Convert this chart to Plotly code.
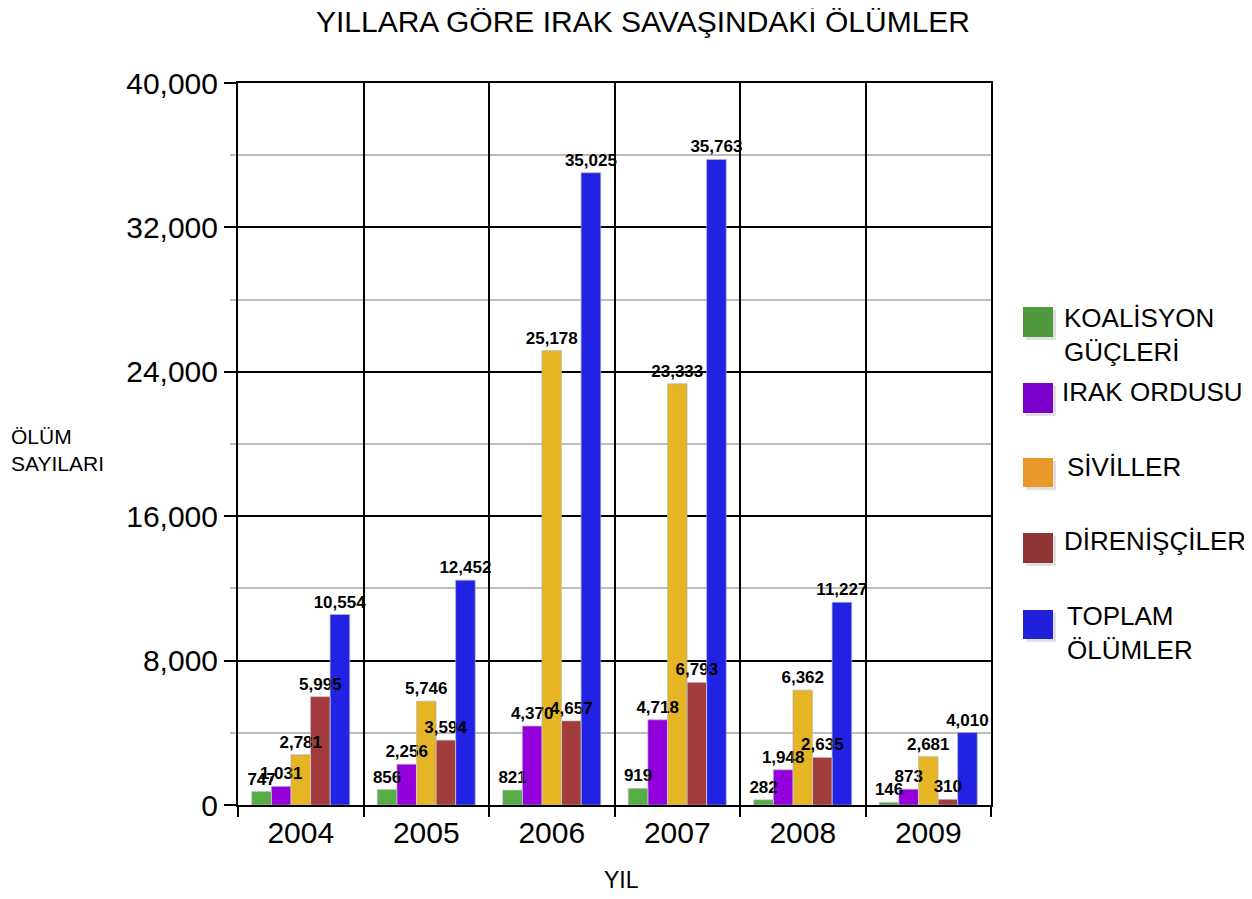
import plotly.graph_objects as go


# ==========================
# DATA
# ==========================

years = ["2004", "2005", "2006", "2007", "2008", "2009"]

koalisyon = [747, 856, 821, 919, 282, 146]
irak_ordusu = [1031, 2256, 4370, 4718, 1948, 873]
siviller = [2781, 5746, 25178, 23333, 6362, 2681]
direnisciler = [5995, 3594, 4657, 6793, 2635, 310]
toplam = [10554, 12452, 35025, 35763, 11227, 4010]

series_names = [
    "KOALİSYON<br>GÜÇLERİ",
    "IRAK ORDUSU",
    "SİVİLLER",
    "DİRENİŞÇİLER",
    "TOPLAM<br>ÖLÜMLER",
]

bar_colors = ["#57ad45", "#9300dc", "#e6b526", "#a33d3d", "#2222e4"]
legend_colors = ["#4f9a3f", "#7a00cc", "#e8992a", "#8e3434", "#2020d8"]

FONT = "Liberation Sans, Arial, sans-serif"


# ==========================
# PIXEL -> PAPER HELPERS
# ==========================

# the page body adds 8px, so the figure is drawn 8px smaller
OFF = 8
W, H = 1252, 899
L, R, T, B = 238, 261, 83, 94
PW = W - L - R
PH = H - T - B


def px(x):
    return (x - L) / PW


def py(y):
    return (H - B - y) / PH


# ==========================
# FIGURE
# ==========================

fig = go.Figure()

all_values = [koalisyon, irak_ordusu, siviller, direnisciler, toplam]


# bars

for i, (name, values, color) in enumerate(zip(series_names, all_values, bar_colors)):

    fig.add_trace(
        go.Bar(
            x=years,
            y=values,
            name=name,
            offsetgroup=str(i),
            marker=dict(color=color, line=dict(color="rgba(0,0,0,0.25)", width=1)),
            showlegend=False,
            hoverinfo="skip",
        )
    )


# value labels on top of every bar

for i, (name, values) in enumerate(zip(series_names, all_values)):

    fig.add_trace(
        go.Bar(
            x=years,
            y=values,
            name=name,
            offsetgroup=str(i),
            marker=dict(color="rgba(0,0,0,0)"),
            texttemplate="%{y:,}",
            textposition="outside",
            textfont=dict(family=FONT, size=17, color="black", weight="bold"),
            constraintext="none",
            cliponaxis=False,
            showlegend=False,
        )
    )


# custom legend (large squares like the original)

legend_boxes = [(307, 337), (383, 413), (458, 487), (533, 563), (610, 639)]
legend_text_y = [335, 392, 467, 541, 633]
legend_text_x = [1062, 1060, 1065, 1062, 1065]

shapes = []
annotations = []

for (top, bottom), color, name, ty, tx in zip(
    legend_boxes, legend_colors, series_names, legend_text_y, legend_text_x
):

    shapes.append(
        dict(
            type="rect",
            xref="paper",
            yref="paper",
            x0=px(1026),
            x1=px(1056),
            y0=py(bottom + 3),
            y1=py(top + 3),
            fillcolor="rgba(0,0,0,0.12)",
            line=dict(width=0),
            layer="below",
        )
    )

    shapes.append(
        dict(
            type="rect",
            xref="paper",
            yref="paper",
            x0=px(1023),
            x1=px(1053),
            y0=py(bottom),
            y1=py(top),
            fillcolor=color,
            line=dict(width=0),
        )
    )

    annotations.append(
        dict(
            text=name,
            xref="paper",
            yref="paper",
            x=px(tx),
            y=py(ty),
            xanchor="left",
            yanchor="middle",
            align="left",
            showarrow=False,
            font=dict(family=FONT, size=26, color="black"),
        )
    )


# axis titles

annotations.append(
    dict(
        text="ÖLÜM<br>SAYILARI",
        xref="paper",
        yref="paper",
        x=px(9),
        y=py(450),
        xanchor="left",
        yanchor="middle",
        align="left",
        showarrow=False,
        font=dict(family=FONT, size=21, color="black"),
    )
)

annotations.append(
    dict(
        text="YIL",
        xref="paper",
        yref="paper",
        x=px(621),
        y=py(880),
        xanchor="center",
        yanchor="middle",
        showarrow=False,
        font=dict(family=FONT, size=23, color="black"),
    )
)


fig.update_layout(

    title=dict(
        text="YILLARA GÖRE IRAK SAVAŞINDAKİ ÖLÜMLER",
        x=(643 - OFF) / (W - OFF),
        xanchor="center",
        y=1 - (21 - OFF) / (H - OFF),
        yanchor="middle",
        font=dict(family=FONT, size=30, color="black"),
    ),

    width=W - OFF,
    height=H - OFF,
    margin=dict(l=L - OFF, r=R, t=T - OFF, b=B, autoexpand=False),
    paper_bgcolor="white",
    plot_bgcolor="white",
    barmode="group",
    bargap=0.22,
    bargroupgap=0,
    shapes=shapes,
    annotations=annotations,
    font=dict(family=FONT, color="black"),

    xaxis=dict(
        type="category",
        tickson="boundaries",
        ticks="outside",
        ticklen=10,
        tickwidth=1.5,
        tickcolor="black",
        showgrid=True,
        gridcolor="black",
        gridwidth=1.5,
        showline=True,
        linecolor="black",
        linewidth=2,
        mirror=True,
        tickfont=dict(family=FONT, size=30, color="black"),
    ),

    yaxis=dict(
        range=[0, 40000],
        dtick=8000,
        tickformat=",",
        ticks="outside",
        ticklen=12,
        tickwidth=1.5,
        tickcolor="black",
        showgrid=True,
        gridcolor="black",
        gridwidth=1.5,
        showline=True,
        linecolor="black",
        linewidth=2,
        mirror=True,
        zeroline=False,
        tickfont=dict(family=FONT, size=30, color="black"),
        minor=dict(
            dtick=4000,
            showgrid=True,
            gridcolor="#bdbdbd",
            gridwidth=1.5,
            ticks="outside",
            ticklen=6,
            tickcolor="#bdbdbd",
        ),
    ),
)


fig.write_html("out.html")
